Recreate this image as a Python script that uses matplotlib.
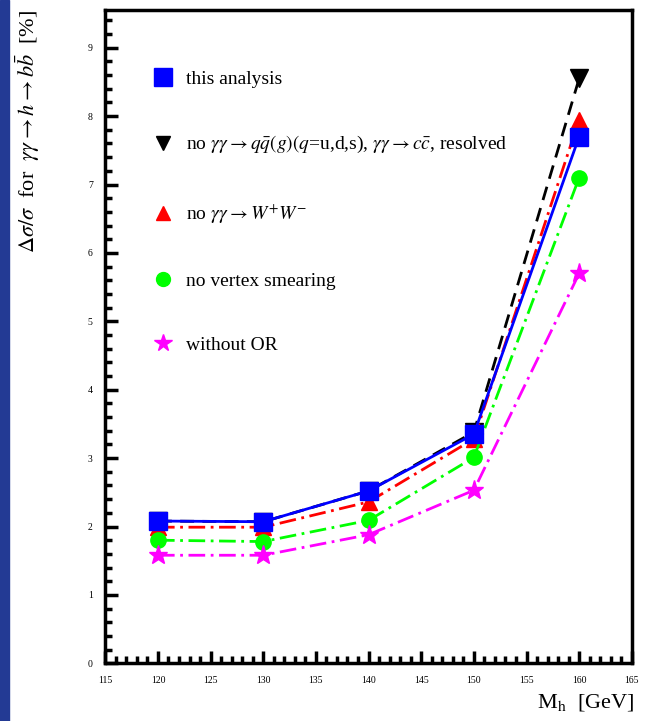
import matplotlib
matplotlib.use("Agg")
import matplotlib.pyplot as plt
from matplotlib.lines import Line2D
from matplotlib.patches import Rectangle
from matplotlib.ticker import MultipleLocator

plt.rcParams['font.family'] = ['Liberation Serif', 'DejaVu Serif']
plt.rcParams['mathtext.fontset'] = 'stix'

# Higgs mass points [GeV]
masses = [120, 130, 140, 150, 160]

# relative error dsigma/sigma [%]
this_analysis = [2.08, 2.07, 2.52, 3.35, 7.70]
no_qq_resolved = [2.08, 2.07, 2.52, 3.38, 8.55]
no_ww = [1.99, 1.99, 2.36, 3.28, 7.95]
no_vertex_smearing = [1.80, 1.78, 2.09, 3.01, 7.10]
without_or = [1.58, 1.58, 1.88, 2.53, 5.70]

labels = [
    'this analysis',
    r'no $\gamma\gamma\rightarrow q\bar{q}(g)(q$=u,d,s), $\gamma\gamma\rightarrow c\bar{c}$, resolved',
    r'no $\gamma\gamma\rightarrow W^{+}W^{-}$',
    'no vertex smearing',
    'without OR',
]

fig = plt.figure(figsize=(6.5, 7.21), dpi=100)
ax = fig.add_axes([0.162, 0.080, 0.810, 0.906])

# blue strip on the left edge
fig.patches.append(Rectangle((0, 0), 0.014, 1, transform=fig.transFigure,
                             color='#233a94', zorder=0))

ax.plot(masses, no_qq_resolved, color='black', lw=2, ls=(0, (5, 3)),
        marker='v', ms=13, zorder=2)
ax.plot(masses, no_ww, color='red', lw=2, ls=(0, (6, 2, 1, 2)),
        marker='^', ms=11, zorder=3)
ax.plot(masses, no_vertex_smearing, color='#00ff00', lw=2, ls=(0, (6, 2, 1, 2)),
        marker='o', ms=11, zorder=3)
ax.plot(masses, without_or, color='magenta', lw=2, ls=(0, (6, 2, 1, 2)),
        marker='*', ms=14, zorder=3)
ax.plot(masses, this_analysis, color='blue', lw=2, ls='-',
        marker='s', ms=13, zorder=4)

ax.set_xlim(115, 165)
ax.set_ylim(0, 9.55)
ax.xaxis.set_major_locator(MultipleLocator(5))
ax.xaxis.set_minor_locator(MultipleLocator(1))
ax.yaxis.set_major_locator(MultipleLocator(1))
ax.yaxis.set_minor_locator(MultipleLocator(0.2))
ax.tick_params(which='both', direction='in', top=False, right=False,
               width=2.5, labelsize=7)
ax.tick_params(axis='x', which='major', pad=9)
ax.tick_params(axis='y', which='major', pad=9)
ax.tick_params(which='major', length=9)
ax.tick_params(which='minor', length=5)
for s in ax.spines.values():
    s.set_linewidth(2.5)

handles = [
    Line2D([], [], color='blue', marker='s', ls='none', ms=13),
    Line2D([], [], color='black', marker='v', ls='none', ms=10),
    Line2D([], [], color='red', marker='^', ms=10, ls='none'),
    Line2D([], [], color='#00ff00', marker='o', ms=10, ls='none'),
    Line2D([], [], color='magenta', marker='*', ms=13, ls='none'),
]
ax.legend(handles, labels, loc='upper left', bbox_to_anchor=(0.058, 0.935),
          frameon=False, fontsize=14, labelspacing=2.4, handlelength=1.0,
          handletextpad=0.7)

fig.text(0.043, 0.986,
         r'$\Delta\sigma/\sigma$  for  $\gamma\gamma\rightarrow h\rightarrow b\bar{b}$  [%]',
         rotation=90, ha='center', va='top', fontsize=16)
fig.text(0.976, 0.025, r'M$_{\rm h}$  [GeV]', ha='right', va='center', fontsize=16)

fig.savefig('out.png', dpi=100)
